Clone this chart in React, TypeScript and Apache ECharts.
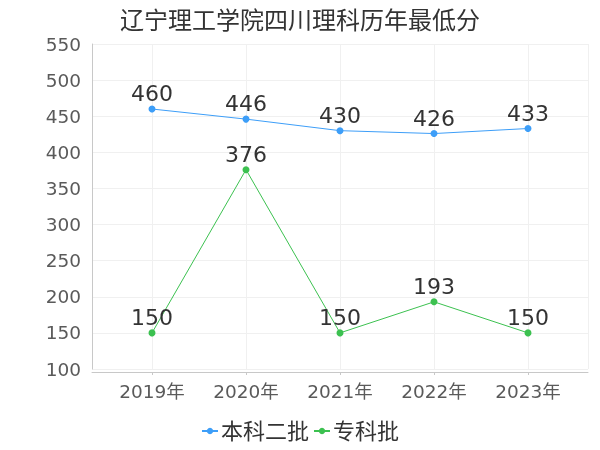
import React, { useEffect, useRef } from "react";
import * as echarts from "echarts";

const title = "辽宁理工学院四川理科历年最低分";
const years = ["2019年", "2020年", "2021年", "2022年", "2023年"];
const seriesNames = ["本科二批", "专科批"];
const benke2 = [460, 446, 430, 426, 433];
const zhuanke = [150, 376, 150, 193, 150];
const colors = ["#3d9ef8", "#3cc150"];

const FONT = "'DejaVu Sans', 'Noto Sans CJK SC', sans-serif";

export default function App() {
  const ref = useRef<HTMLDivElement>(null);
  useEffect(() => {
    if (!ref.current) return;
    const chart = echarts.init(ref.current, null, { renderer: "svg" });
    const mkSeries = (name: string, data: number[], color: string) => ({
      name,
      type: "line",
      xAxisIndex: 1,
      yAxisIndex: 1,
      data,
      symbol: "circle",
      symbolSize: 7,
      itemStyle: { color },
      lineStyle: { color, width: 1 },
      label: {
        show: true,
        position: "top",
        distance: 1,
        fontSize: 22,
        color: "#333",
        fontFamily: FONT,
      },
    });
    chart.setOption({
      animation: false,
      color: colors,
      textStyle: { fontFamily: FONT },
      title: {
        text: title,
        left: "center",
        top: 4,
        textStyle: { fontSize: 24, fontWeight: "normal", color: "#333", fontFamily: FONT },
      },
      legend: {
        bottom: 3,
        left: "center",
        itemWidth: 16,
        itemHeight: 8,
        itemGap: 4,
        textStyle: { fontSize: 22, color: "#333", fontFamily: FONT, padding: [0, 0, 0, -2] },
        data: seriesNames,
      },
      grid: [
        { left: 92, right: 12, top: 44, bottom: 81 },
        { left: 152, right: 72, top: 44, bottom: 81 },
      ],
      xAxis: [
        {
          gridIndex: 0,
          type: "value",
          min: 0,
          max: 1,
          interval: 1,
          axisLine: { show: true, onZero: false, lineStyle: { color: "#c8c8c8" } },
          offset: 3,
          axisTick: { show: false },
          axisLabel: { show: false },
          splitLine: { show: true, lineStyle: { color: "#f0f0f0" } },
        },
        {
          gridIndex: 1,
          type: "category",
          data: years,
          boundaryGap: false,
          offset: 3,
          axisLine: { show: false },
          axisTick: { show: true, length: 3, lineStyle: { color: "#c8c8c8" } },
          axisLabel: { fontSize: 18.5, color: "#5a5a5a", margin: 10, fontFamily: FONT },
          splitLine: { show: true, lineStyle: { color: "#f0f0f0" } },
        },
      ],
      yAxis: [
        {
          gridIndex: 0,
          type: "value",
          min: 100,
          max: 550,
          interval: 50,
          offset: 4,
          axisLine: { show: true, lineStyle: { color: "#c8c8c8" } },
          axisTick: { show: false },
          axisLabel: { fontSize: 18.5, color: "#5a5a5a", margin: 7, fontFamily: FONT },
          splitLine: { show: true, lineStyle: { color: "#f0f0f0" } },
        },
        {
          gridIndex: 1,
          type: "value",
          min: 100,
          max: 550,
          interval: 50,
          show: false,
          splitLine: { show: false },
        },
      ],
      series: [
        mkSeries(seriesNames[0], benke2, colors[0]),
        mkSeries(seriesNames[1], zhuanke, colors[1]),
      ],
    });
    return () => chart.dispose();
  }, []);
  return (
    <div
      ref={ref}
      style={{ position: "fixed", left: 0, top: 0, width: 600, height: 450 }}
    />
  );
}
